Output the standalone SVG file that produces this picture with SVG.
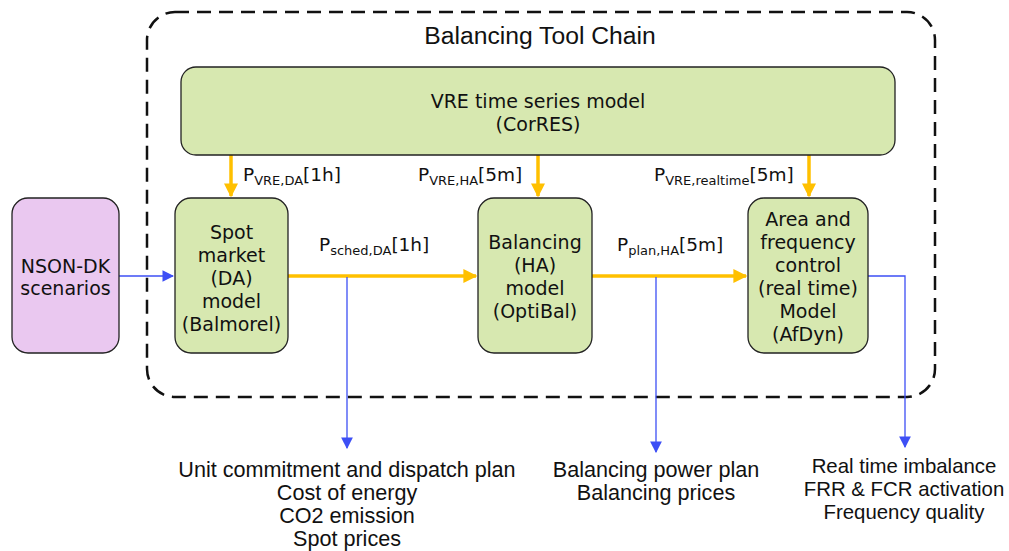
<svg xmlns="http://www.w3.org/2000/svg" width="1009" height="551" viewBox="0 0 1009 551">
<style>
.box{fill:#d7e8b0;stroke:#222;stroke-width:1.3}
.nson{fill:#eac8f0;stroke:#222;stroke-width:1.3}
.t{font-family:"DejaVu Sans",Verdana,sans-serif;font-size:19px;fill:#111;text-anchor:middle}
.lab{font-family:"DejaVu Sans",Verdana,sans-serif;font-size:18.5px;fill:#111}
.sub{font-size:13px}
.out{font-family:"Liberation Sans",Arial,sans-serif;font-size:21.6px;fill:#111;text-anchor:middle}
.out2{font-size:20.4px}
.or{stroke:#ffc000;stroke-width:3.5;fill:none}
.bl{stroke:#3d4ff5;stroke-width:1.3;fill:none}
</style>
<defs>
<marker id="ao" viewBox="0 0 10 10" refX="9" refY="5" markerWidth="4" markerHeight="4" orient="auto" markerUnits="strokeWidth"><path d="M0,0 L10,5 L0,10 z" fill="#ffc000"/></marker>
<marker id="ab" viewBox="0 0 10 10" refX="9" refY="5" markerWidth="9" markerHeight="9" orient="auto" markerUnits="strokeWidth"><path d="M0,0 L10,5 L0,10 z" fill="#3d4ff5"/></marker>
</defs>
<rect width="1009" height="551" fill="#fff"/>
<g id="container">
<rect x="147" y="12" width="788" height="385" rx="28" fill="none" stroke="#111" stroke-width="2.5" stroke-dasharray="14,8"/>
<text x="540" y="44" font-family="Liberation Sans,Arial,sans-serif" font-size="24.7" fill="#111" text-anchor="middle">Balancing Tool Chain</text>
</g>
<g id="connectors">
<line class="or" x1="231" y1="155" x2="231" y2="196" marker-end="url(#ao)"/>
<line class="or" x1="538" y1="155" x2="538" y2="196" marker-end="url(#ao)"/>
<line class="or" x1="809" y1="155" x2="809" y2="196" marker-end="url(#ao)"/>
<line class="or" x1="288" y1="276" x2="476" y2="276" marker-end="url(#ao)"/>
<line class="or" x1="592" y1="276" x2="746" y2="276" marker-end="url(#ao)"/>
<line class="bl" x1="119" y1="276" x2="173" y2="276" marker-end="url(#ab)"/>
<line class="bl" x1="347" y1="277" x2="347" y2="448" marker-end="url(#ab)"/>
<line class="bl" x1="656" y1="277" x2="656" y2="452" marker-end="url(#ab)"/>
<polyline class="bl" points="868,276 905,276 905,447" marker-end="url(#ab)"/>
<text class="lab" x="243" y="181">P<tspan class="sub" dy="4">VRE,DA</tspan><tspan dy="-4">[1h]</tspan></text>
<text class="lab" x="418" y="181">P<tspan class="sub" dy="4">VRE,HA</tspan><tspan dy="-4">[5m]</tspan></text>
<text class="lab" x="654" y="181">P<tspan class="sub" dy="4">VRE,realtime</tspan><tspan dy="-4">[5m]</tspan></text>
<text class="lab" x="319" y="251">P<tspan class="sub" dy="4">sched,DA</tspan><tspan dy="-4">[1h]</tspan></text>
<text class="lab" x="617" y="251">P<tspan class="sub" dy="4">plan,HA</tspan><tspan dy="-4">[5m]</tspan></text>
</g>
<g id="vre">
<rect class="box" x="181" y="67" width="714" height="88" rx="15"/>
<text class="t" x="538" y="108">VRE time series model</text>
<text class="t" x="538" y="131">(CorRES)</text>
</g>
<g id="nson">
<rect class="nson" x="12" y="198" width="107" height="155" rx="16"/>
<text class="t" x="65.5" y="273">NSON-DK</text>
<text class="t" x="65.5" y="295">scenarios</text>
</g>
<g id="spot">
<rect class="box" x="175" y="198" width="113" height="155" rx="16"/>
<text class="t" x="231.5" y="239">Spot</text>
<text class="t" x="231.5" y="262">market</text>
<text class="t" x="231.5" y="285">(DA)</text>
<text class="t" x="231.5" y="308">model</text>
<text class="t" x="231.5" y="331">(Balmorel)</text>
</g>
<g id="balancing">
<rect class="box" x="478" y="198" width="114" height="155" rx="16"/>
<text class="t" x="535" y="249">Balancing</text>
<text class="t" x="535" y="272">(HA)</text>
<text class="t" x="535" y="295">model</text>
<text class="t" x="535" y="318">(OptiBal)</text>
</g>
<g id="afdyn">
<rect class="box" x="748" y="198" width="120" height="155" rx="16"/>
<text class="t" x="808" y="226">Area and</text>
<text class="t" x="808" y="249">frequency</text>
<text class="t" x="808" y="272">control</text>
<text class="t" x="808" y="295">(real time)</text>
<text class="t" x="808" y="318">Model</text>
<text class="t" x="808" y="341">(AfDyn)</text>
</g>
<g id="out-da">
<text class="out" x="347" y="477">Unit commitment and dispatch plan</text>
<text class="out" x="347" y="500">Cost of energy</text>
<text class="out" x="347" y="523">CO2 emission</text>
<text class="out" x="347" y="546">Spot prices</text>
</g>
<g id="out-ha">
<text class="out" x="656" y="477">Balancing power plan</text>
<text class="out" x="656" y="500">Balancing prices</text>
</g>
<g id="out-rt">
<text class="out out2" x="904" y="473">Real time imbalance</text>
<text class="out out2" x="904" y="496">FRR &amp; FCR activation</text>
<text class="out out2" x="904" y="519">Frequency quality</text>
</g>
</svg>
